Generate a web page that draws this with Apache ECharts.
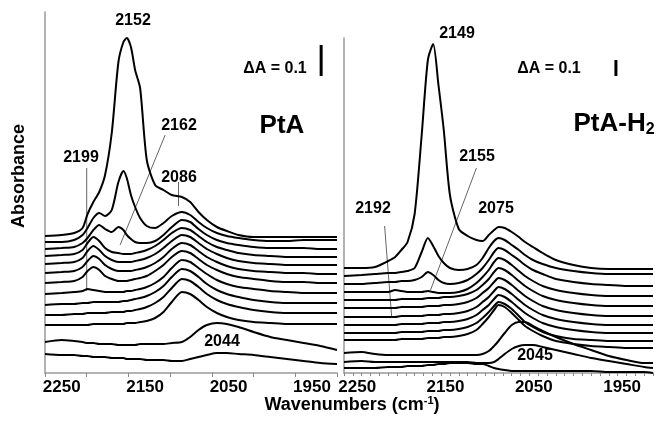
<!DOCTYPE html>
<html><head><meta charset="utf-8">
<script src="https://cdn.jsdelivr.net/npm/echarts@6.0.0/dist/echarts.min.js"></script>
<style>html,body{margin:0;padding:0;background:#fff}#c{width:656px;height:422px}</style>
</head><body><div id="c"></div>
<script>
// Wavenumber sample points (cm-1)
const wnPtA = [2250,2230,2215,2205,2199,2192,2185,2178,2170,2162,2156,2152,2147,2142,2136,2128,2118,2108,2098,2086,2076,2066,2056,2044,2032,2018,2000,1980,1960,1940,1920,1900];
const wnPtAH2 = [2250,2230,2215,2200,2192,2185,2178,2170,2162,2155,2149,2143,2137,2130,2120,2110,2100,2093,2086,2080,2075,2068,2060,2052,2045,2036,2025,2010,1990,1970,1950,1930,1910,1900];

// PtA spectra (offset absorbance, arbitrary units; 31 units = 0.1 A)
const ptaS1  = [137,138,140,145,159,171,181,198,240,311,331,335,326,303,285,213,188,183,178,176,171,161,153,146,142,138,136,136,136,136,136,136];
const ptaS2  = [131,131,133,138,145,155,160,157,163,191,202,195,178,166,155,147,145,150,157,161,158,151,145,140,137,135,133,132,132,133,133,133];
const ptaS3  = [124,125,126,130,135,143,148,144,141,146,143,138,134,131,130,130,132,138,146,153,151,144,138,133,130,128,126,125,125,125,124,124];
const ptaS4  = [117,118,119,123,130,136,132,125,121,120,119,119,119,120,121,123,127,133,140,145,143,137,131,126,123,120,118,117,116,116,116,116];
const ptaS5  = [109,110,111,115,122,127,123,117,113,111,111,111,111,112,113,115,119,125,132,138,136,130,124,119,115,112,110,109,108,108,108,108];
const ptaS6  = [100,101,102,106,112,117,114,108,104,102,102,102,102,103,104,106,110,116,124,130,128,122,116,111,107,104,102,101,100,100,99,99];
const ptaS7  = [90,91,92,96,102,106,103,97,94,92,92,92,93,94,95,97,102,108,116,122,120,114,108,103,99,96,94,92,91,91,90,90];
const ptaS8  = [79,80,81,82,84,83,82,81,81,81,81,82,82,83,84,86,90,96,105,113,111,105,99,93,89,86,84,82,81,80,80,80];
const ptaS9  = [68,69,69,70,70,71,71,71,71,71,72,72,73,74,75,77,81,87,96,104,102,96,89,83,79,76,73,71,70,70,70,70];
const ptaS10 = [58,58,59,59,60,60,60,60,61,61,61,62,62,63,64,66,70,76,85,94,92,86,79,73,69,66,63,61,60,60,60,60];
const ptaS11 = [48,48,48,48,48,49,49,49,49,49,49,50,50,50,51,52,55,61,71,81,79,73,66,60,56,53,51,50,49,49,49,49];
const ptaS12 = [31,33,32,31,30,30,29,29,29,28,28,28,28,28,29,29,29,29,30,31,36,43,48,50,49,46,41,36,33,30,27,23];
const ptaS13 = [19,18,18,17,17,16,16,16,15,15,15,14,14,14,14,13,13,13,12,12,14,16,18,20,20,19,18,16,14,12,10,9];

// PtA-H2 spectra (offset absorbance, arbitrary units; 16 units = 0.1 A)
const h2S1  = [105,105,106,112,116,123,131,159,238,313,329,288,243,178,144,137,133,132,138,143,146,145,141,136,131,126,120,113,108,105,104,104,104,104];
const h2S2  = [97,98,99,100,100,101,102,105,121,135,127,117,110,105,103,104,108,115,125,132,135,133,128,123,118,113,109,105,102,100,99,99,99,99];
const h2S3  = [89,89,90,91,91,92,92,93,96,101,98,93,90,89,90,93,99,105,113,121,125,123,118,113,108,103,99,94,91,89,88,87,87,87];
const h2S4  = [81,81,81,81,83,82,81,81,81,82,81,80,80,80,81,84,90,96,103,111,115,113,108,102,97,92,87,83,80,78,77,77,77,77];
const h2S5  = [73,73,73,73,73,74,74,74,74,75,75,75,76,76,77,79,83,88,94,101,105,103,98,92,87,82,77,73,70,68,67,67,67,67];
const h2S6  = [65,65,65,65,65,66,66,66,66,67,67,67,68,68,69,71,75,80,85,91,95,93,88,82,77,72,67,63,60,58,57,57,57,57];
const h2S7  = [56,56,56,56,56,57,57,57,57,58,58,58,59,59,60,62,66,71,76,82,86,84,79,73,68,63,58,54,51,49,48,48,48,48];
const h2S8  = [48,48,48,48,48,49,49,49,49,50,50,50,51,51,52,54,58,63,68,74,78,76,71,65,60,55,50,46,43,41,40,40,40,40];
const h2S9  = [40,40,40,40,40,41,41,41,41,42,42,42,43,43,44,46,50,55,61,67,71,69,64,57,51,46,41,37,34,33,32,32,32,32];
const h2S10 = [33,33,33,33,33,34,34,34,34,35,35,35,36,36,37,39,43,49,56,63,68,66,60,53,47,42,37,32,29,27,26,25,25,25];
const h2S11 = [20,21,19,18,18,18,18,18,18,18,18,18,18,18,18,18,18,19,22,27,32,40,48,51,51,47,42,36,29,23,17,13,10,10];
const h2S12 = [11,12,11,11,11,11,11,11,11,11,11,11,11,11,11,11,10,10,10,11,14,19,24,27,28,28,26,23,19,15,12,9,6,5];
const h2S13 = [5,5,5,6,6,6,7,7,7,8,8,9,9,10,10,10,9,9,7,5,4,3,2,2,2,2,2,2,2,2,1,1,1,0];

// Tick labels
const tickLabels = ['2250','2150','2050','1950'];

// Annotation guide lines [wavenumber, value]
const guide2199 = [[2200,82],[2200,205]];
const guide2162 = [[2106,238],[2160,128]];
const guide2086 = [[2090,167],[2090,191]];
const guide2155 = [[2100,205],[2152,83]];
const guide2192 = [[2204,147],[2196,56]];
// Scale bars (delta A = 0.1)
const barPtA = [[1919,297],[1919,328]];
const barPtAH2 = [[1942,297],[1942,313]];

const FONT = '"Liberation Sans", Arial, Helvetica, sans-serif';
const chart = echarts.init(document.getElementById('c'), null, {renderer:'canvas'});

const ptaSet = [ptaS1,ptaS2,ptaS3,ptaS4,ptaS5,ptaS6,ptaS7,ptaS8,ptaS9,ptaS10,ptaS11,ptaS12,ptaS13];
const h2Set = [h2S1,h2S2,h2S3,h2S4,h2S5,h2S6,h2S7,h2S8,h2S9,h2S10,h2S11,h2S12,h2S13];

function spec(vals, wn, ax){
  return {type:'line', xAxisIndex:ax, yAxisIndex:ax===0?0:1, data: wn.map((w,i)=>[w,vals[i]]),
    showSymbol:false, smooth:0.25, lineStyle:{color:'#000', width:2}, silent:true, z:3};
}
function guide(d, ax){
  return {type:'line', xAxisIndex:ax, yAxisIndex:ax===0?0:1, data:d, showSymbol:false,
    lineStyle:{color:'#666', width:1}, silent:true, z:2};
}
function bar(d, ax){
  return {type:'line', xAxisIndex:ax, yAxisIndex:ax===0?0:1, data:d, showSymbol:false,
    lineStyle:{color:'#000', width:3}, silent:true, z:4};
}
const series = [];
ptaSet.forEach(v=>series.push(spec(v, wnPtA, 0)));
h2Set.forEach(v=>series.push(spec(v, wnPtAH2, 2)));
series.push(guide(guide2199,0), guide(guide2162,0), guide(guide2086,0));
series.push(guide(guide2155,2), guide(guide2192,2));
series.push(bar(barPtA,0), bar(barPtAH2,2));

const axisGray = {show:true, lineStyle:{color:'#999', width:1.5}};
function labelAxis(grid, shift){
  return {type:'value', gridIndex:grid, inverse:true, min:1900, max:2250, interval:5, position:'bottom',
    axisLine:axisGray, axisTick:{show:false}, splitLine:{show:false},
    axisLabel:{show:true, margin:6, color:'#000', fontSize:17, fontWeight:'bold', fontFamily:FONT,
      showMinLabel:true, showMaxLabel:true,
      formatter:(v)=>{ const t = String(Math.round(v+shift)); return tickLabels.indexOf(t)>=0 && ((Math.round(v)-(100-shift))%100===0 || (Math.round(v)+shift)%100===50) ? t : ''; }}};
}
function tickAxis(grid, iv, len){
  return {type:'value', gridIndex:grid, inverse:true, min:1900, max:2250, interval:iv, position:'bottom',
    axisLine:{show:false}, axisTick:{show:true, length:len, lineStyle:{color:'#888', width:1}},
    splitLine:{show:false}, axisLabel:{show:false}};
}
function yAx(grid, max){
  return {type:'value', gridIndex:grid, min:0, max:max, axisLine:axisGray, axisTick:{show:false},
    axisLabel:{show:false}, splitLine:{show:false}};
}

const txt = (s, x, y, size, extra) => Object.assign({type:'text', x:x, y:y, silent:true, z:10,
  style:{text:s, fill:'#000', fontSize:size, fontWeight:'bold', fontFamily:FONT, textAlign:'center', textVerticalAlign:'middle'}}, extra||{});

chart.setOption({
  animation:false,
  backgroundColor:'#fff',
  grid:[
    {left:45, top:12, width:292, height:361},
    {left:344, top:38, width:311, height:335}
  ],
  xAxis:[labelAxis(0,20), tickAxis(0,50,4), labelAxis(1,15), tickAxis(1,10,3)],
  yAxis:[yAx(0,361), yAx(1,335)],
  series:series,
  graphic:[
    txt('2152',133,21,16),
    txt('\u0394A = 0.1',275,69,16),
    txt('PtA',282,126,26),
    txt('2162',179,126,16),
    txt('2199',81,158,16),
    txt('2086',179,178,16),
    txt('2044',222,342,16),
    txt('2149',457,34,16),
    txt('\u0394A = 0.1',549,69,16),
    {type:'text', x:614, y:124, silent:true, z:10,
      style:{text:'{a|PtA-H}{s|2}', textAlign:'center', textVerticalAlign:'middle',
        rich:{a:{fontSize:26, fontWeight:'bold', fontFamily:FONT, fill:'#000', height:30, verticalAlign:'middle'},
              s:{fontSize:16, fontWeight:'bold', fontFamily:FONT, fill:'#000', height:30, verticalAlign:'bottom', padding:[12,0,0,0]}}}},
    txt('2155',477,157,16),
    txt('2192',373,209,16),
    txt('2075',496,209,16),
    txt('2045',535,356,16),
    txt('Absorbance',19,176,18,{rotation:Math.PI/2}),
    {type:'text', x:352, y:405, silent:true, z:10,
      style:{text:'{a|Wavenumbers (cm}{s|-1}{a|)}', textAlign:'center', textVerticalAlign:'middle',
        rich:{a:{fontSize:18, fontWeight:'bold', fontFamily:FONT, fill:'#000', height:22, verticalAlign:'middle'},
              s:{fontSize:11, fontWeight:'bold', fontFamily:FONT, fill:'#000', height:22, verticalAlign:'top', padding:[0,0,8,0]}}}}
  ]
});
</script></body></html>
